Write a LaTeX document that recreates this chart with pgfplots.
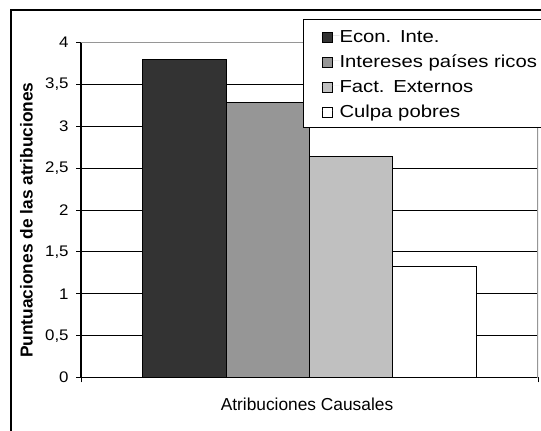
\documentclass[border=0pt]{standalone}
\usepackage{pgfplots}
\pgfplotsset{compat=1.18}
\usepackage{fontspec}
\setmainfont{Liberation Sans}
\newfontfamily\legfont[FakeStretch=1.17]{Liberation Sans}
\newfontfamily\tickfont[FakeStretch=1.1]{Liberation Sans}
\definecolor{cA}{HTML}{333333}
\definecolor{cB}{HTML}{969696}
\definecolor{cC}{HTML}{C0C0C0}
\definecolor{bordergray}{HTML}{969696}
\begin{document}
\begin{tikzpicture}
\useasboundingbox (0,0) rectangle (405.75pt,-322.5pt);
\clip (0,0) rectangle (405.75pt,-322.5pt);
\fill[white] (0,0) rectangle (405.75pt,-322.5pt);
\draw[black, line width=1.5pt] (7.9pt,-7.5pt) rectangle (430pt,-350pt);
\begin{axis}[
  at={(60.75pt,-283.1pt)}, anchor=south west,
  width=342.75pt, height=251.1pt, scale only axis,
  xmin=-0.5, xmax=0.5, ymin=0, ymax=4,
  ybar=0pt, bar width=62.5pt,
  axis x line*=bottom, axis y line*=left,
  axis line style={black, line width=0.9pt},
  xtick={-0.5,0.5}, xticklabels={},
  ytick={0,0.5,1,1.5,2,2.5,3,3.5,4},
  /pgf/number format/.cd, use comma, 1000 sep={}, assume math mode=true, /pgfplots/.cd,
  tick align=outside, major tick length=3.75pt,
  tick style={black, line width=0.75pt},
  yticklabel style={font=\tickfont\fontsize{11.5}{13}\selectfont, xshift=-2pt},
  ymajorgrids, major grid style={black, line width=0.75pt},
  xlabel={Atribuciones Causales},
  xlabel style={at={(axis description cs:0.4945,-0.0992)}, anchor=base, font=\fontsize{13}{15}\selectfont},
  ylabel={\bfseries Puntuaciones de las atribuciones},
  ylabel style={at={(axis description cs:-0.1057,0.47)}, anchor=base, rotate=0, font=\fontsize{13}{15}\selectfont},
  legend cell align=left,
  legend image code/.code={\draw[#1, draw=black, line width=0.75pt] (0.375pt,-4.75pt) rectangle (7.875pt,2.75pt); \path[draw=none] (0,0) -- (13.5pt,0);},
  legend style={at={(0.4858,1.0699)}, anchor=north west, draw=black, line width=0.75pt, fill=white,
    font=\legfont\fontsize{13}{15}\selectfont, inner xsep=13.5pt, inner ysep=2.75pt, row sep=0pt,
    nodes={inner xsep=0pt, inner ysep=0pt, text height=14.5pt, text depth=4.25pt, text width=170pt}},
]
\addplot[fill=cA, draw=black, line width=0.75pt] coordinates {(0,3.8)};
\addplot[fill=cB, draw=black, line width=0.75pt] coordinates {(0,3.29)};
\addplot[fill=cC, draw=black, line width=0.75pt] coordinates {(0,2.64)};
\addplot[fill=white, draw=black, line width=0.75pt] coordinates {(0,1.32)};
\draw[bordergray, line width=1pt] (rel axis cs:0,1) -- (rel axis cs:1,1) -- (rel axis cs:1,0) -- ++(0pt,-3.75pt);
\legend{Econ. Inte., Intereses países ricos, Fact. Externos, Culpa pobres}
\end{axis}
\end{tikzpicture}
\end{document}
